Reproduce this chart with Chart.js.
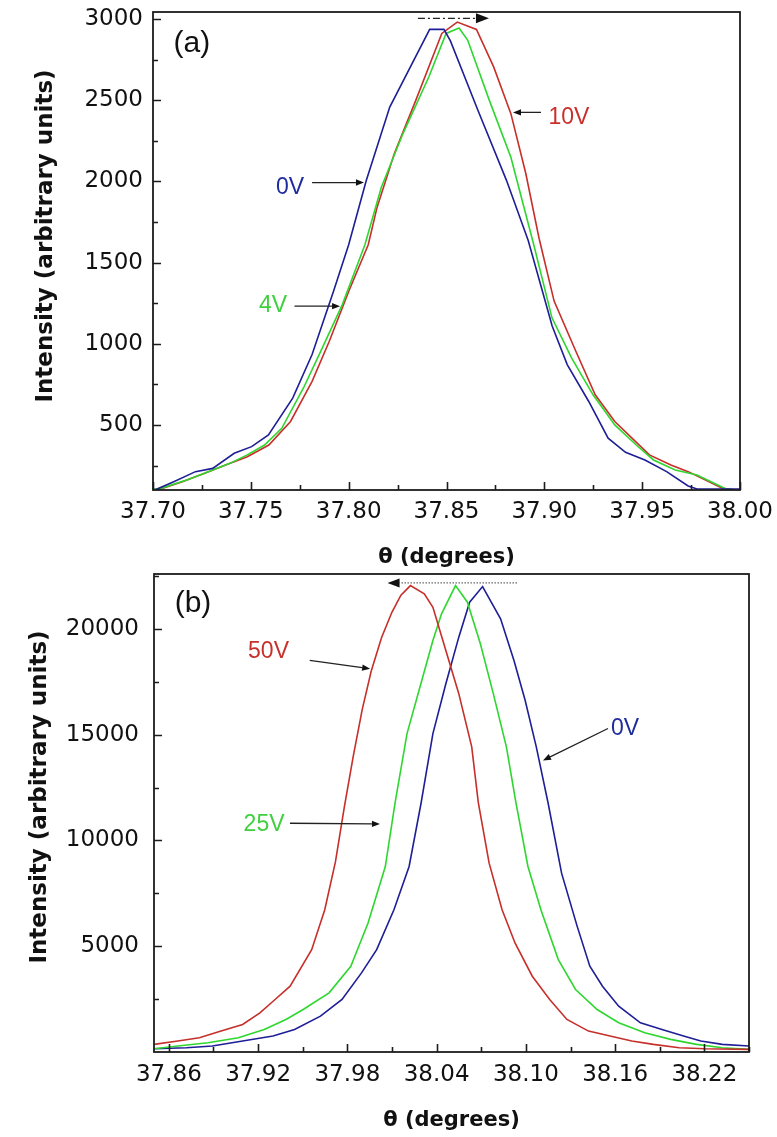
<!DOCTYPE html>
<html><head><meta charset="utf-8">
<script src="https://cdn.jsdelivr.net/npm/chart.js@4.4.1/dist/chart.umd.min.js"></script>
<style>
html,body{margin:0;padding:0;background:#fff;}
#wrap{position:relative;width:777px;height:1137px;overflow:hidden;background:#fff;}
.box{position:absolute;left:0;width:777px;}
canvas{display:block;}
</style></head><body>
<div id="wrap">
<div class="box" style="top:0;height:570px"><canvas id="cA" width="777" height="570"></canvas></div>
<div class="box" style="top:560px;height:577px"><canvas id="cB" width="777" height="577"></canvas></div>
</div>
<script>
// ---------- Panel (a) data ----------
const a_x_0V = [37.700,37.7018,37.7106,37.7217,37.7305,37.7415,37.7504,37.759,37.7714,37.7813,37.7923,37.800,37.809,37.821,37.8414,37.8487,37.852,37.866,37.8807,37.8918,37.9040,37.9117,37.9227,37.9326,37.9415,37.9514,37.9625,37.9735,37.978,38.000];
const a_y_0V = [100,104,151,213,233,326,367,439,666,934,1325,1610,2005,2458,2936,2936,2865,2440,2005,1634,1110,872,645,419,332,285,213,125,106,106];
const a_x_4V = [37.700,37.704,37.7172,37.7283,37.7393,37.7482,37.757,37.7658,37.7769,37.7857,37.7968,37.8083,37.8167,37.8277,37.841,37.8498,37.8564,37.8608,37.8719,37.8829,37.8945,37.9039,37.9139,37.9249,37.936,37.947,37.9558,37.9669,37.978,37.9868,37.9934,37.997];
const a_y_4V = [104,110,161,213,264,316,377,480,728,954,1243,1610,1964,2293,2644,2911,2945,2870,2499,2149,1615,1160,913,686,501,377,285,223,192,141,104,102];
const a_x_10V = [37.700,37.7029,37.715,37.7261,37.7371,37.7482,37.7592,37.7703,37.7813,37.7901,37.8001,37.810,37.8145,37.8233,37.8343,37.8476,37.8555,37.8653,37.8741,37.8829,37.8905,37.8973,37.905,37.9161,37.926,37.936,37.9448,37.9537,37.9647,37.9735,37.9824,37.9912,37.997];
const a_y_10V = [100,102,151,202,254,305,377,522,769,1016,1325,1610,1840,2170,2499,2911,2981,2936,2705,2417,2050,1650,1263,954,686,522,419,316,254,213,161,110,102];
const a_xTicks = [37.70,37.75,37.80,37.85,37.90,37.95,38.00];
const a_xMinor = [37.725,37.775,37.825,37.875,37.925,37.975];
const a_yTicks = [500,1000,1500,2000,2500,3000];
const a_yMinor = [250,750,1250,1750,2250,2750];

// ---------- Panel (b) data ----------
const b_x_50V = [37.850,37.866,37.8805,37.8951,37.9096,37.9212,37.9314,37.9415,37.956,37.9648,37.972,37.978,37.984,37.990,37.996,38.003,38.010,38.016,38.0224,38.0317,38.0375,38.0462,38.0549,38.0636,38.068,38.0753,38.084,38.0927,38.1043,38.116,38.1276,38.1421,38.1566,38.1712,38.1857,38.2031,38.2205,38.250];
const b_y_50V = [360,517,674,989,1303,1853,2482,3111,4840,6726,9000,11600,14000,16200,18000,19600,20800,21600,22051,21658,21029,18986,16942,14427,11800,8927,6726,5154,3582,2482,1539,989,753,517,360,203,155,124];
const b_x_25V = [37.850,37.866,37.8863,37.9067,37.9241,37.9387,37.9503,37.9677,37.9823,37.9939,38.0055,38.012,38.0201,38.0288,38.0375,38.0433,38.0527,38.0607,38.0694,38.0781,38.0869,38.0934,38.1014,38.1101,38.1218,38.1334,38.1479,38.1624,38.1799,38.1973,38.2147,38.2321,38.250];
const b_y_25V = [155,281,438,674,1067,1539,2010,2796,4054,6098,8770,11750,15056,17256,19457,20715,22051,21265,19300,16942,14427,11750,8770,6726,4368,2954,2010,1382,910,596,360,203,124];
const b_x_0V = [37.850,37.8718,37.8892,37.9096,37.930,37.9445,37.9619,37.9764,37.9895,37.9997,38.0113,38.0215,38.0295,38.0375,38.0462,38.0549,38.0622,38.0709,38.0830,38.0920,38.0995,38.1070,38.1150,38.1240,38.1345,38.1430,38.1515,38.1624,38.177,38.1915,38.206,38.2176,38.2321,38.250];
const b_y_0V = [155,203,281,517,753,1067,1696,2482,3740,4840,6726,8770,11750,15056,17413,19614,21265,22004,20479,18514,16628,14427,11750,8456,5940,4054,3111,2168,1382,1067,753,517,360,281];
const b_xTicks = [37.86,37.92,37.98,38.04,38.10,38.16,38.22];
const b_xMinor = [37.89,37.95,38.01,38.07,38.13,38.19,38.25];
const b_yTicks = [5000,10000,15000,20000];
const b_yMinor = [2500,7500,12500,17500,22500];

// ---------- styles ----------
const BLUE = '#1e1e96', RED = '#c62f2a', GREEN = '#2fd62f';
const BLUE_T = '#1f2c9e', RED_T = '#c9302c', GREEN_T = '#3fd03f';

const zip = (xs, ys) => xs.map((x, i) => ({x, y: ys[i]}));

// annotations (data coordinates)
const a_labels = [
  {text:'(a)', x:37.7199, y:2845, color:'#111', size:30},
  {text:'0V', x:37.770, y:1962, color:BLUE_T, size:23},
  {text:'4V', x:37.7613, y:1232, color:GREEN_T, size:23},
  {text:'10V', x:37.9126, y:2394, color:RED_T, size:23}
];
const a_arrows = [
  {x1:37.7813, y1:1993, x2:37.8078, y2:1993},
  {x1:37.7723, y1:1232, x2:37.7956, y2:1232},
  {x1:37.8983, y1:2425, x2:37.8840, y2:2425},
  {x1:37.8354, y1:3004, x2:37.8717, y2:3004, dash:[7,3,2,3], head:13, hw:5}
];
const b_labels = [
  {text:'(b)', x:37.8762, y:21202, color:'#111', size:30},
  {text:'50V', x:37.927, y:18906, color:RED_T, size:23},
  {text:'0V', x:38.1667, y:15309, color:BLUE_T, size:23},
  {text:'25V', x:37.924, y:10735, color:GREEN_T, size:23}
];
const b_arrows = [
  {x1:37.9547, y1:18515, x2:37.9953, y2:18124},
  {x1:38.1552, y1:15295, x2:38.1115, y2:13785},
  {x1:37.9414, y1:10816, x2:38.0019, y2:10783},
  {x1:38.094, y1:22178, x2:38.007, y2:22178, dash:[1.5,1.5], color:'#666', head:12, hw:4.5}
];

const framePlugin = {
  id: 'frame',
  afterDatasetsDraw(chart, args, o) {
    const {ctx, chartArea: a, scales: {x, y}} = chart;
    ctx.save();
    ctx.strokeStyle = '#1c1c1c';
    ctx.lineWidth = 1.6;
    ctx.beginPath();
    const tick = (vals, len, axis) => vals.forEach(v => {
      if (axis === 'x') { const p = Math.round(x.getPixelForValue(v)) + 0.5; if (p < a.left - 1 || p > a.right + 1) return; ctx.moveTo(p, a.bottom); ctx.lineTo(p, a.bottom - len); }
      else { const p = Math.round(y.getPixelForValue(v)) + 0.5; if (p < a.top - 1 || p > a.bottom + 1) return; ctx.moveTo(a.left, p); ctx.lineTo(a.left + len, p); }
    });
    tick(o.xMajor, 8, 'x'); tick(o.xMinor, 5, 'x');
    tick(o.yMajor, 8, 'y'); tick(o.yMinor, 5, 'y');
    ctx.stroke();
    ctx.lineWidth = 1.8;
    ctx.strokeRect(a.left, a.top, a.right - a.left, a.bottom - a.top);
    // annotations
    (o.arrows || []).forEach(ar => {
      const x1 = x.getPixelForValue(ar.x1), y1 = y.getPixelForValue(ar.y1);
      const x2 = x.getPixelForValue(ar.x2), y2 = y.getPixelForValue(ar.y2);
      const ang = Math.atan2(y2 - y1, x2 - x1);
      const hl = ar.head || 8, hw = ar.hw || 3.2;
      const bx = x2 - hl * Math.cos(ang), by = y2 - hl * Math.sin(ang);
      ctx.save();
      ctx.strokeStyle = ar.color || '#222';
      ctx.lineWidth = 1.3;
      ctx.setLineDash(ar.dash || []);
      ctx.beginPath(); ctx.moveTo(x1, y1); ctx.lineTo(bx, by); ctx.stroke();
      ctx.setLineDash([]);
      ctx.fillStyle = '#111';
      ctx.beginPath();
      ctx.moveTo(x2, y2);
      ctx.lineTo(bx + hw * Math.sin(ang), by - hw * Math.cos(ang));
      ctx.lineTo(bx - hw * Math.sin(ang), by + hw * Math.cos(ang));
      ctx.closePath(); ctx.fill();
      ctx.restore();
    });
    ctx.textAlign = 'center'; ctx.textBaseline = 'middle';
    (o.labels || []).forEach(l => {
      ctx.fillStyle = l.color;
      ctx.font = l.size + 'px "Liberation Sans", Arial, sans-serif';
      ctx.fillText(l.text, x.getPixelForValue(l.x), y.getPixelForValue(l.y));
    });
    // y axis title
    ctx.save();
    ctx.translate(o.yTitleX, o.yTitleY);
    ctx.rotate(-Math.PI / 2);
    ctx.fillStyle = '#111';
    ctx.font = 'bold 23px "DejaVu Sans", sans-serif';
    ctx.fillText(o.yTitle, 0, 0);
    ctx.restore();
    ctx.restore();
  }
};

function makeChart(id, cfg) {
  const tickFont = {family: '"DejaVu Sans", sans-serif', size: 23};
  return new Chart(document.getElementById(id), {
    type: 'scatter',
    data: {datasets: cfg.series.map(s => ({
      label: s.label, data: zip(s.xs, s.ys), showLine: true,
      borderColor: s.color, backgroundColor: s.color, borderWidth: 1.6,
      pointRadius: 0, pointHoverRadius: 0, tension: 0, fill: false
    }))},
    options: {
      responsive: false, animation: false,
      layout: {padding: cfg.padding},
      plugins: {legend: {display: false}, tooltip: {enabled: false}, frame: cfg.frame},
      scales: {
        x: {
          type: 'linear', min: cfg.xMin, max: cfg.xMax,
          grid: {display: false, drawTicks: false}, border: {display: false},
          afterBuildTicks: s => { s.ticks = cfg.xTicks.map(v => ({value: v})); },
          afterFit: s => { s.height = cfg.xHeight; s.paddingLeft = 0; s.paddingRight = 0; },
          ticks: {autoSkip: false, maxRotation: 0, minRotation: 0, padding: cfg.xPad, color: '#111', font: tickFont,
                  callback: v => Number(v).toFixed(2)},
          title: {display: true, text: 'θ (degrees)', color: '#111', padding: {top: 0, bottom: cfg.xTitlePad},
                  font: {family: '"DejaVu Sans", sans-serif', size: 21, weight: 'bold'}}
        },
        y: {
          type: 'linear', min: cfg.yMin, max: cfg.yMax,
          grid: {display: false, drawTicks: false}, border: {display: false},
          afterBuildTicks: s => { s.ticks = cfg.yTicks.map(v => ({value: v})); },
          afterFit: s => { s.width = cfg.yWidth; s.paddingTop = 0; s.paddingBottom = 0; },
          ticks: {autoSkip: false, padding: cfg.yPad, color: '#111', font: tickFont, callback: v => String(v)}
        }
      }
    },
    plugins: [framePlugin]
  });
}

makeChart('cA', {
  series: [
    {label: '0V', xs: a_x_0V, ys: a_y_0V, color: BLUE},
    {label: '4V', xs: a_x_4V, ys: a_y_4V, color: GREEN},
    {label: '10V', xs: a_x_10V, ys: a_y_10V, color: RED}
  ],
  xMin: 37.70, xMax: 38.00, yMin: 100, yMax: 3043,
  xTicks: a_xTicks, yTicks: a_yTicks,
  padding: {left: 0, right: 37, top: 12, bottom: 0},
  xHeight: 80, yWidth: 153, xPad: 8, yPad: 10, xTitlePad: 0,
  frame: {xMajor: a_xTicks, xMinor: a_xMinor, yMajor: a_yTicks, yMinor: a_yMinor,
          labels: a_labels, arrows: a_arrows, yTitle: 'Intensity (arbitrary units)', yTitleX: 46, yTitleY: 236}
});

makeChart('cB', {
  series: [
    {label: '50V', xs: b_x_50V, ys: b_y_50V, color: RED},
    {label: '25V', xs: b_x_25V, ys: b_y_25V, color: GREEN},
    {label: '0V', xs: b_x_0V, ys: b_y_0V, color: BLUE}
  ],
  xMin: 37.85, xMax: 38.25, yMin: 0, yMax: 22600,
  xTicks: b_xTicks, yTicks: b_yTicks,
  padding: {left: 0, right: 28, top: 14, bottom: 0},
  xHeight: 85, yWidth: 154, xPad: 9, yPad: 15, xTitlePad: 4,
  frame: {xMajor: b_xTicks, xMinor: b_xMinor, yMajor: b_yTicks, yMinor: b_yMinor,
          labels: b_labels, arrows: b_arrows, yTitle: 'Intensity (arbitrary units)', yTitleX: 40, yTitleY: 237}
});
</script>
</body></html>
